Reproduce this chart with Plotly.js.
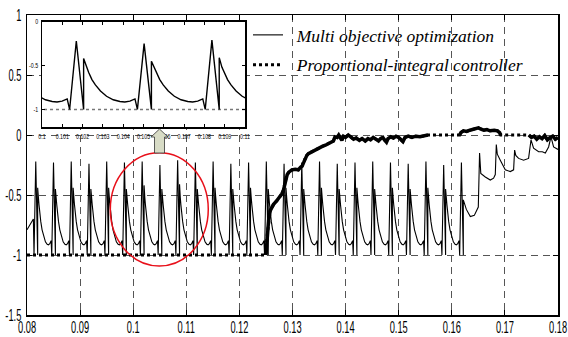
<!DOCTYPE html>
<html>
<head>
<meta charset="utf-8">
<script src="https://cdn.plot.ly/plotly-3.0.1.min.js"></script>
<style>
  html, body { margin: 0; padding: 0; background: #fff; }
  #chart { width: 568px; height: 337px; }
</style>
</head>
<body>
<div id="chart"></div>
<script>
// ---------------- DATA ----------------
// axis ticks
const xTickVals = [0.08, 0.09, 0.10, 0.11, 0.12, 0.13, 0.14, 0.15, 0.16, 0.17, 0.18];
const xTickText = ["0.08", "0.09", "0.1", "0.11", "0.12", "0.13", "0.14", "0.15", "0.16", "0.17", "0.18"];
const yTickVals = [1, 0.5, 0, -0.5, -1, -1.5];
const yTickText = ["1", "0.5", "0", "-0.5", "-1", "-1.5"];
const insetXTickVals = [0.100, 0.101, 0.102, 0.103, 0.104, 0.105, 0.106, 0.107, 0.108, 0.109, 0.110];
const insetXTickText = ["0.1", "0.101", "0.102", "0.103", "0.104", "0.105", "0.106", "0.107", "0.108", "0.109", "0.11"];
const insetYTickVals = [0, -0.5, -1];
const insetYTickText = ["0", "-0.5", "-1"];

// series names
const mooName = "Multi objective optimization";
const piName = "Proportional-integral controller";

// Multi objective optimization: times of each switching spike (drop to -1)
const spikeDrops = [0.08132, 0.08466, 0.08800, 0.09134, 0.09468, 0.09802, 0.10136, 0.10470,
  0.10804, 0.11138, 0.11472, 0.11806, 0.12140, 0.12474, 0.12808, 0.13142, 0.13476, 0.13810,
  0.14144, 0.14478, 0.14812, 0.15146, 0.15480, 0.15814, 0.16148];
// spike peak values and rebound values
const spikePeaks = [-0.22, -0.23, -0.22, -0.24, -0.22, -0.23, -0.22, -0.25, -0.21, -0.23, -0.22, -0.24,
  -0.23, -0.22, -0.24, -0.23, -0.22, -0.24, -0.23, -0.22, -0.23, -0.24, -0.22, -0.25, -0.23];
const spikeRebounds = [-0.44, -0.45, -0.44, -0.45, -0.44, -0.45, -0.42, -0.45, -0.41, -0.45, -0.44, -0.45,
  -0.44, -0.45, -0.44, -0.45, -0.44, -0.45, -0.44, -0.45, -0.44, -0.45, -0.44, -0.45, -0.44];
// one switching period (time after the drop, value)
const periodOffsets = [0, 0.00033, 0.00069, 0.00069, 0.000825, 0.00094, 0.0011, 0.00127, 0.00152,
  0.00182, 0.00215, 0.00248, 0.00272, 0.00297, 0.00322];
const periodValues = [-1, null, -1, null, -0.52, -0.58, -0.66, -0.72, -0.79, -0.85, -0.89, -0.91,
  -0.915, -0.905, -0.88];
// before the first spike
const leadT = [0.08, 0.0812];
const leadV = [-0.79, -0.70];
// after the last regular spike
const tailT = [0.16217, 0.16274, 0.16349, 0.16424, 0.16499, 0.16523, 0.16546, 0.16631, 0.16725,
  0.16787, 0.16819, 0.16838, 0.16857, 0.16913, 0.17007, 0.17102, 0.17164, 0.17183, 0.17205,
  0.17258, 0.17352, 0.17446, 0.17492, 0.17540, 0.17635, 0.17704, 0.17761, 0.17823, 0.17868,
  0.17917, 0.18];
const tailV = [-0.54, -0.62, -0.68, -0.67, -0.60, -0.15, -0.32, -0.35, -0.375,
  -0.36, -0.33, -0.08, -0.16, -0.21, -0.29, -0.305, -0.29, -0.125, -0.17,
  -0.195, -0.21, -0.195, -0.04, -0.11, -0.14, -0.14, -0.15, -0.10, -0.015,
  -0.10, -0.12];

// Proportional-integral controller
const piT = [0.08, 0.1250, 0.1252, 0.1255, 0.1258, 0.1262, 0.1264, 0.1270, 0.1274, 0.1280, 0.1283,
  0.1286, 0.1290, 0.1293, 0.1299, 0.1305, 0.1311, 0.1315, 0.1318, 0.1322, 0.1324, 0.1327, 0.1330,
  0.1336, 0.1343, 0.1350, 0.1356, 0.1362, 0.1368, 0.1374, 0.1377, 0.1380, 0.1384, 0.1387, 0.1390,
  0.1393, 0.1396, 0.1400, 0.1405, 0.1410, 0.1415, 0.1420, 0.1426, 0.1431, 0.1437, 0.1442, 0.1447,
  0.1452, 0.1457, 0.1462, 0.1466, 0.1470, 0.1474, 0.1477, 0.1480, 0.1485, 0.1490, 0.1495, 0.1500,
  0.1505, 0.1508, 0.1512, 0.1518, 0.1525, 0.1532, 0.1540, 0.1550, 0.1555, 0.1615, 0.1617, 0.1622,
  0.1628, 0.1634, 0.1640, 0.1646, 0.1650, 0.1654, 0.1660, 0.1666, 0.1672, 0.1680, 0.1686, 0.1690,
  0.1692, 0.1745, 0.1750, 0.1755, 0.1760, 0.1765, 0.1770, 0.1775, 0.1780, 0.1785, 0.1790, 0.1795,
  0.1800];
const piV = [-1, -1, -0.85, -0.71, -0.63, -0.60, -0.58, -0.55, -0.53, -0.49, -0.46,
  -0.39, -0.33, -0.31, -0.29, -0.285, -0.29, -0.27, -0.26, -0.22, -0.19, -0.17, -0.155,
  -0.14, -0.125, -0.11, -0.095, -0.085, -0.07, -0.06, -0.05, -0.015, -0.02, 0.0, -0.03,
  -0.045, -0.01, -0.02, 0.0, -0.02, -0.035, -0.025, -0.045, -0.03, -0.05, -0.03, -0.04,
  -0.02, -0.035, -0.05, -0.03, -0.02, -0.045, -0.06, -0.03, -0.015, -0.025, -0.01, -0.02,
  -0.04, -0.055, -0.02, -0.01, -0.02, -0.01, -0.015, -0.005, 0, 0, 0.02, 0.035,
  0.03, 0.04, 0.045, 0.055, 0.06, 0.05, 0.04, 0.045, 0.035, 0.04, 0.035, 0.02,
  0, 0, -0.02, -0.01, -0.035, -0.015, -0.03, -0.005, -0.04, -0.02, -0.01, -0.035,
  -0.02];
// time windows where the PI trace is dense enough to look solid
const piDenseWindows = [[0.1250, 0.1555], [0.1615, 0.1692], [0.1745, 0.1800]];

// ---------------- BUILD SERIES ----------------
const mooX = leadT.slice();
const mooY = leadV.slice();
spikeDrops.forEach((td, k) => {
  const n = (k < spikeDrops.length - 1) ? periodOffsets.length : 3;
  for (let i = 0; i < n; i++) {
    let v = periodValues[i];
    if (i === 1) v = spikePeaks[k];
    if (i === 3) v = spikeRebounds[k];
    mooX.push(td + periodOffsets[i]);
    mooY.push(v);
  }
});
tailT.forEach((t, i) => { mooX.push(t); mooY.push(tailV[i]); });

const denseX = [], denseY = [];
piDenseWindows.forEach(w => {
  piT.forEach((t, i) => {
    if (t >= w[0] - 1e-9 && t <= w[1] + 1e-9) { denseX.push(t); denseY.push(piV[i]); }
  });
  denseX.push(null); denseY.push(null);
});

// ---------------- LAYOUT HELPERS ----------------
const L = 27, R = 558, T = 15, B = 315;
const PX = p => (p - L) / (R - L);
const PY = p => (B - p) / (B - T);

const tickFont = { family: "Liberation Sans, Arial, sans-serif", size: 16, color: "#000" };
const insetFont = { family: "Liberation Sans, Arial, sans-serif", size: 7, color: "#000" };

const traces = [
  { x: mooX, y: mooY, type: "scatter", mode: "lines", name: "\u00a0\u00a0" + mooName,
    legendgroup: "a", line: { color: "#000", width: 1.1 }, xaxis: "x", yaxis: "y" },
  { x: piT, y: piV, type: "scatter", mode: "lines", name: "\u00a0\u00a0" + piName,
    legendgroup: "b", line: { color: "#000", width: 3, dash: "dot" }, xaxis: "x", yaxis: "y" },
  { x: denseX, y: denseY, type: "scatter", mode: "lines", showlegend: false, connectgaps: false,
    line: { color: "#000", width: 3.5 }, xaxis: "x", yaxis: "y", hoverinfo: "skip" },
  { x: piT, y: piV, type: "scatter", mode: "lines", showlegend: false,
    line: { color: "#777", width: 1.6, dash: "dot" }, xaxis: "x2", yaxis: "y2" },
  { x: mooX, y: mooY, type: "scatter", mode: "lines", showlegend: false,
    line: { color: "#000", width: 1.4 }, xaxis: "x2", yaxis: "y2" }
];

const layout = {
  width: 568, height: 337,
  margin: { l: L, r: 568 - R, t: T, b: 337 - B, pad: 0 },
  paper_bgcolor: "#fff", plot_bgcolor: "#fff",
  showlegend: true,
  legend: {
    x: PX(248), y: PY(17), xanchor: "left", yanchor: "top",
    bgcolor: "rgba(0,0,0,0)", borderwidth: 0,
    font: { family: "Liberation Serif, Times New Roman, serif", size: 17.5, style: "italic", color: "#000" },
    traceorder: "grouped", tracegroupgap: 4, itemwidth: 30
  },
  xaxis: {
    range: [0.0799999, 0.1800001], tickvals: xTickVals, ticktext: xTickText,
    ticks: "inside", ticklen: 5, tickcolor: "#000", mirror: "ticks",
    showline: true, linecolor: "#000", linewidth: 1.5,
    showgrid: true, gridcolor: "#555", gridwidth: 1, griddash: "7px,5px",
    zeroline: false, tickfont: tickFont, ticklabelstandoff: -3, ticklabeloverflow: "allow"
  },
  yaxis: {
    range: [-1.5000001, 1.0000001], tickvals: yTickVals, ticktext: yTickText,
    ticks: "inside", ticklen: 5, tickcolor: "#000", mirror: "ticks",
    showline: true, linecolor: "#000", linewidth: 1.5,
    showgrid: true, gridcolor: "#555", gridwidth: 1, griddash: "7px,5px",
    zeroline: false, tickfont: tickFont, ticklabelstandoff: 1, ticklabeloverflow: "allow"
  },
  xaxis2: {
    domain: [PX(42), PX(245)], anchor: "y2",
    range: [0.0999999, 0.1100001], tickvals: insetXTickVals, ticktext: insetXTickText,
    ticks: "inside", ticklen: 3, tickcolor: "#000", mirror: "ticks", tickangle: 0,
    showline: true, linecolor: "#000", linewidth: 1.5,
    showgrid: false, zeroline: false, tickfont: insetFont, ticklabelstandoff: 2,
    ticklabeloverflow: "allow"
  },
  yaxis2: {
    domain: [PY(127), PY(21.7)], anchor: "x2",
    range: [-1.2, 0.0000001], tickvals: insetYTickVals, ticktext: insetYTickText,
    ticks: "inside", ticklen: 3, tickcolor: "#000", mirror: "ticks",
    showline: true, linecolor: "#000", linewidth: 1.5,
    showgrid: false, zeroline: false, tickfont: insetFont, ticklabelstandoff: 1,
    ticklabeloverflow: "allow"
  },
  shapes: [
    { type: "circle", xref: "x", yref: "y", x0: 0.09569, x1: 0.11414, y0: -1.0917, y1: -0.1475,
      line: { color: "#e8101a", width: 1.5 }, layer: "above" },
    { type: "path", xref: "paper", yref: "paper",
      path: "M" + PX(159.5) + "," + PY(129) + " L" + PX(168) + "," + PY(137) + " L" + PX(164.5) + "," + PY(137) +
            " L" + PX(164.5) + "," + PY(153) + " L" + PX(154.5) + "," + PY(153) + " L" + PX(154.5) + "," + PY(137) +
            " L" + PX(151) + "," + PY(137) + " Z",
      fillcolor: "#d8dcc6", line: { color: "#333", width: 0.8 }, layer: "above" }
  ]
};

// condense tick labels horizontally (the original uses a tall, narrow face)
function condense(selector, factor) {
  document.querySelectorAll(selector).forEach(el => {
    const w = el.getComputedTextLength();
    if (w > 0) {
      el.setAttribute("textLength", (w * factor).toFixed(2));
      el.setAttribute("lengthAdjust", "spacingAndGlyphs");
    }
  });
}

Plotly.newPlot("chart", traces, layout, { staticPlot: true, displayModeBar: false }).then(() => {
  condense("#chart .xaxislayer-above .xtick text", 0.58);
  condense("#chart .yaxislayer-above .ytick text", 0.58);
  condense("#chart .xaxislayer-above .x2tick text", 0.75);
  condense("#chart .yaxislayer-above .y2tick text", 0.75);
});
</script>
</body>
</html>
